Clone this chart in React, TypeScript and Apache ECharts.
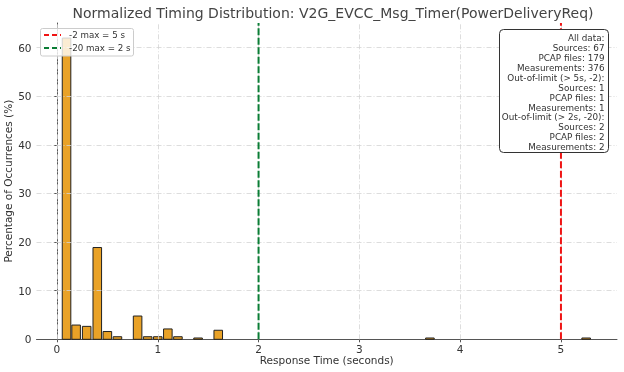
import React, { useEffect, useRef } from "react";
import * as echarts from "echarts";

const binCenters = [0.095, 0.19, 0.295, 0.4, 0.5, 0.6, 0.8, 0.9, 1.0, 1.1, 1.2, 1.4, 1.6, 3.7, 5.25];
const percentages = [61.97, 2.93, 2.66, 18.88, 1.6, 0.53, 4.79, 0.53, 0.53, 2.13, 0.53, 0.27, 1.86, 0.27, 0.27];
const xTicks = [0, 1, 2, 3, 4, 5];
const yTicks = [0, 10, 20, 30, 40, 50, 60];
const limitLines = [
  { name: "-2 max = 5 s", x: 5, color: "#f01414" },
  { name: "-20 max = 2 s", x: 2, color: "#0a7d35" },
];
const statsLines = [
  "All data:",
  "Sources: 67",
  "PCAP files: 179",
  "Measurements: 376",
  "Out-of-limit (> 5s, -2):",
  "Sources: 1",
  "PCAP files: 1",
  "Measurements: 1",
  "Out-of-limit (> 2s, -20):",
  "Sources: 2",
  "PCAP files: 2",
  "Measurements: 2",
];

const X_MIN = -0.203;
const X_MAX = 5.556;
const Y_MAX = 65.07;
const BAR_DATA_WIDTH = 0.085;
const FONT = "DejaVu Sans";

export default function App() {
  const ref = useRef<HTMLDivElement>(null);
  useEffect(() => {
    if (!ref.current) return;
    const chart = echarts.init(ref.current, undefined, { renderer: "svg" });
    const gridStyle = { color: "#d4d4d4", width: 0.8, type: [5, 2, 1, 2] as any };
    const option: any = {
      animation: false,
      textStyle: { fontFamily: FONT },
      title: {
        text: "Normalized Timing Distribution: V2G_EVCC_Msg_Timer(PowerDeliveryReq)",
        left: 328,
        textAlign: "center",
        top: 1,
        textStyle: { fontFamily: FONT, fontSize: 14, fontWeight: "normal", color: "#444" },
      },
      grid: {
        left: 36.5,
        right: 7,
        top: 23,
        bottom: 32.7,
        containLabel: false,
        outerBoundsMode: "none",
      },
      xAxis: {
        type: "value",
        min: X_MIN,
        max: X_MAX,
        name: "Response Time (seconds)",
        nameLocation: "middle",
        nameGap: 15,
        nameMoveOverlap: false,
        nameTextStyle: { fontFamily: FONT, fontSize: 10.5, color: "#333" },
        axisLine: { show: true, onZero: false, lineStyle: { color: "#555", width: 1 } },
        axisTick: { show: true, length: 3, customValues: xTicks, lineStyle: { color: "#555" } },
        axisLabel: { customValues: xTicks, margin: 4, fontSize: 10.5, color: "#333", fontFamily: FONT },
        splitLine: { show: false },
      },
      yAxis: {
        type: "value",
        min: 0,
        max: Y_MAX,
        name: "Percentage of Occurrences (%)",
        nameLocation: "middle",
        nameGap: 23,
        nameMoveOverlap: false,
        nameTextStyle: { fontFamily: FONT, fontSize: 10.5, color: "#333" },
        axisLine: { show: true, lineStyle: { color: "#555", width: 1 } },
        axisTick: { show: true, length: 3, customValues: yTicks, lineStyle: { color: "#555" } },
        axisLabel: { customValues: yTicks, margin: 5, fontSize: 10.5, color: "#333", fontFamily: FONT },
        splitLine: { show: false },
      },
      series: [
        {
          type: "line",
          name: "grid",
          data: [],
          z: 0,
          silent: true,
          markLine: {
            silent: true,
            symbol: "none",
            label: { show: false },
            lineStyle: gridStyle,
            data: [
              ...xTicks.map((v) => ({ xAxis: v })),
              ...yTicks.filter((v) => v > 0).map((v) => ({ yAxis: v })),
            ],
          },
        },
        {
          type: "custom",
          name: "hist",
          z: 2,
          data: binCenters.map((c, i) => [c, percentages[i]]),
          renderItem: (params: any, api: any) => {
            const x = api.value(0);
            const y = api.value(1);
            const base = api.coord([x, 0]);
            const top = api.coord([x, y]);
            const w = api.size([BAR_DATA_WIDTH, 0])[0];
            return {
              type: "rect",
              shape: { x: base[0] - w / 2, y: top[1], width: w, height: base[1] - top[1] },
              style: { fill: "#E9A227", stroke: "#222", lineWidth: 1 },
            };
          },
        },
        ...limitLines.map((l) => ({
          type: "line",
          name: l.name,
          z: 5,
          symbol: "none",
          data: [
            [l.x, 0],
            [l.x, Y_MAX],
          ],
          lineStyle: { color: l.color, width: 2, type: [7, 2.5] },
        })),
      ],
      graphic: [
        {
          type: "group",
          z: 100,
          children: [
            {
              type: "rect",
              shape: { x: 40.5, y: 28.5, width: 93, height: 27.5, r: 2 },
              style: { fill: "rgba(255,255,255,0.8)", stroke: "#cccccc", lineWidth: 1 },
              z: 100,
            },
            ...limitLines.map((l, i) => ({
              type: "line",
              shape: { x1: 44, y1: 35 + i * 13, x2: 61, y2: 35 + i * 13 },
              style: { stroke: l.color, lineWidth: 2, lineDash: [5, 3] },
              z: 101,
            })),
            ...limitLines.map((l, i) => ({
              type: "text",
              x: 69,
              y: 35 + i * 13,
              style: {
                text: l.name,
                fontFamily: FONT,
                fontSize: 8.7,
                fill: "#333",
                verticalAlign: "middle",
              },
              z: 101,
            })),
          ],
        },
        {
          type: "group",
          z: 100,
          children: [
            {
              type: "rect",
              shape: { x: 499.5, y: 29.5, width: 109, height: 123, r: 4 },
              style: { fill: "#ffffff", stroke: "#333", lineWidth: 1 },
              z: 100,
            },
            {
              type: "text",
              x: 604.5,
              y: 33.3,
              style: {
                text: statsLines.join("\n"),
                fontFamily: FONT,
                fontSize: 8.8,
                lineHeight: 9.9,
                fill: "#333",
                align: "right",
                verticalAlign: "top",
              },
              z: 101,
            },
          ],
        },
      ],
    };
    chart.setOption(option);
    return () => chart.dispose();
  }, []);
  return (
    <div
      ref={ref}
      style={{ position: "fixed", left: 0, top: 0, width: 624, height: 372 }}
    />
  );
}
